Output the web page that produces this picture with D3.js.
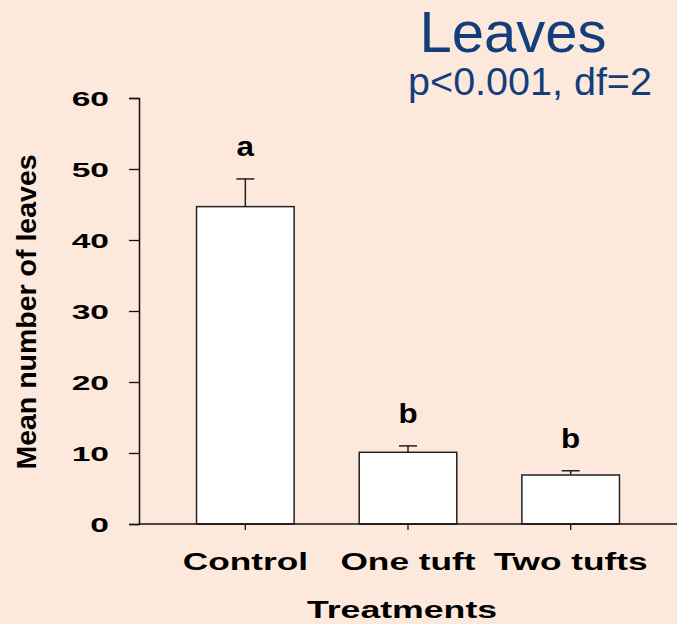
<!DOCTYPE html>
<html>
<head>
<meta charset="utf-8">
<script src="https://cdn.jsdelivr.net/npm/d3@7"></script>
<style>
  html, body { margin: 0; padding: 0; background: #fde9dc; }
  svg { display: block; font-family: "Liberation Sans", Arial, sans-serif; }
</style>
</head>
<body>
<div id="wrapper"></div>
<script>
// DATA
const treatments = ["Control", "One tuft", "Two tufts"];
const meanLeaves = [44.7, 10.1, 6.9];
const errLeaves = [3.9, 0.9, 0.6];
const groupLetters = ["a", "b", "b"];
const yTicks = [0, 10, 20, 30, 40, 50, 60];

const width = 677, height = 624;

const svg = d3.select("#wrapper")
  .append("svg")
  .attr("width", width)
  .attr("height", height);

svg.append("rect")
  .attr("width", width)
  .attr("height", height)
  .attr("fill", "#fde9dc");

// the labels in the original look horizontally stretched
function stretch(sel, factor, anchor) {
  sel.each(function () {
    const t = d3.select(this);
    const w = this.getComputedTextLength() * factor;
    const x0 = +t.attr("x") || 0;
    let start = x0;
    if (anchor === "middle") start = x0 - w / 2;
    if (anchor === "end") start = x0 - w;
    t.attr("text-anchor", "start")
      .attr("x", start)
      .attr("textLength", w)
      .attr("lengthAdjust", "spacingAndGlyphs");
  });
}

//SCALES
const y = d3.scaleLinear().domain([0, 60]).range([524, 98]);
const x = d3.scaleBand()
  .domain(treatments)
  .range([164, 652])
  .paddingInner(0.4)
  .paddingOuter(0.2);

//Y AXIS
const yAxis = svg.append("g")
  .attr("transform", "translate(139,0)")
  .call(d3.axisLeft(y).tickValues(yTicks).tickSize(10).tickPadding(30));

yAxis.select(".domain").attr("stroke", "#111").attr("stroke-width", 1.5);
yAxis.selectAll(".tick line").attr("stroke", "#111").attr("stroke-width", 1.3);
yAxis.selectAll(".tick text")
  .attr("font-size", 21)
  .attr("font-weight", "bold")
  .attr("fill", "#000")
  .attr("font-family", "Liberation Sans, Arial, sans-serif")
  .attr("dy", "0.36em")
  .attr("x", -30)
  .call(stretch, 1.6, "end");

//BARS
svg.append("g")
  .selectAll("rect")
  .data(treatments)
  .join("rect")
  .attr("x", d => x(d))
  .attr("y", (d, i) => y(meanLeaves[i]))
  .attr("width", x.bandwidth())
  .attr("height", (d, i) => y(0) - y(meanLeaves[i]))
  .attr("fill", "#fff")
  .attr("stroke", "#222")
  .attr("stroke-width", 1.5);

//ERROR BARS
const err = svg.append("g")
  .attr("stroke", "#222")
  .attr("stroke-width", 1.5);

treatments.forEach((t, i) => {
  const cx = x(t) + x.bandwidth() / 2;
  err.append("line")
    .attr("x1", cx).attr("x2", cx)
    .attr("y1", y(meanLeaves[i]))
    .attr("y2", y(meanLeaves[i] + errLeaves[i]));
  err.append("line")
    .attr("x1", cx - 9).attr("x2", cx + 9)
    .attr("y1", y(meanLeaves[i] + errLeaves[i]))
    .attr("y2", y(meanLeaves[i] + errLeaves[i]));
});

//LETTERS
svg.append("g")
  .selectAll("text")
  .data(treatments)
  .join("text")
  .attr("x", d => x(d) + x.bandwidth() / 2)
  .attr("y", (d, i) => y(meanLeaves[i] + errLeaves[i]) - 23)
  .attr("font-size", 28)
  .attr("font-weight", "bold")
  .text((d, i) => groupLetters[i])
  .call(stretch, 1.12, "middle");

//X AXIS
svg.append("line")
  .attr("x1", 139).attr("x2", 677)
  .attr("y1", y(0)).attr("y2", y(0))
  .attr("stroke", "#111")
  .attr("stroke-width", 1.5);

svg.append("g")
  .selectAll("line")
  .data(treatments)
  .join("line")
  .attr("x1", d => x(d) + x.bandwidth() / 2)
  .attr("x2", d => x(d) + x.bandwidth() / 2)
  .attr("y1", y(0))
  .attr("y2", y(0) + 6)
  .attr("stroke", "#111")
  .attr("stroke-width", 1.3);

svg.append("g")
  .selectAll("text")
  .data(treatments)
  .join("text")
  .attr("x", d => x(d) + x.bandwidth() / 2)
  .attr("y", 570)
  .attr("font-size", 23.5)
  .attr("font-weight", "bold")
  .text(d => d)
  .call(stretch, 1.5, "middle");

//AXIS TITLES
svg.append("text")
  .attr("x", 402)
  .attr("y", 618)
  .attr("font-size", 23)
  .attr("font-weight", "bold")
  .text("Treatments")
  .call(stretch, 1.55, "middle");

svg.append("text")
  .attr("transform", "translate(36,312) rotate(-90)")
  .attr("text-anchor", "middle")
  .attr("font-size", 28.5)
  .attr("font-weight", "bold")
  .text("Mean number of leaves");

//TITLE
svg.append("text")
  .attr("x", 513)
  .attr("y", 52)
  .attr("text-anchor", "middle")
  .attr("font-size", 58)
  .attr("fill", "#123f7c")
  .text("Leaves");

svg.append("text")
  .attr("x", 530)
  .attr("y", 95)
  .attr("text-anchor", "middle")
  .attr("font-size", 39.5)
  .attr("fill", "#123f7c")
  .text("p<0.001, df=2");
</script>
</body>
</html>
